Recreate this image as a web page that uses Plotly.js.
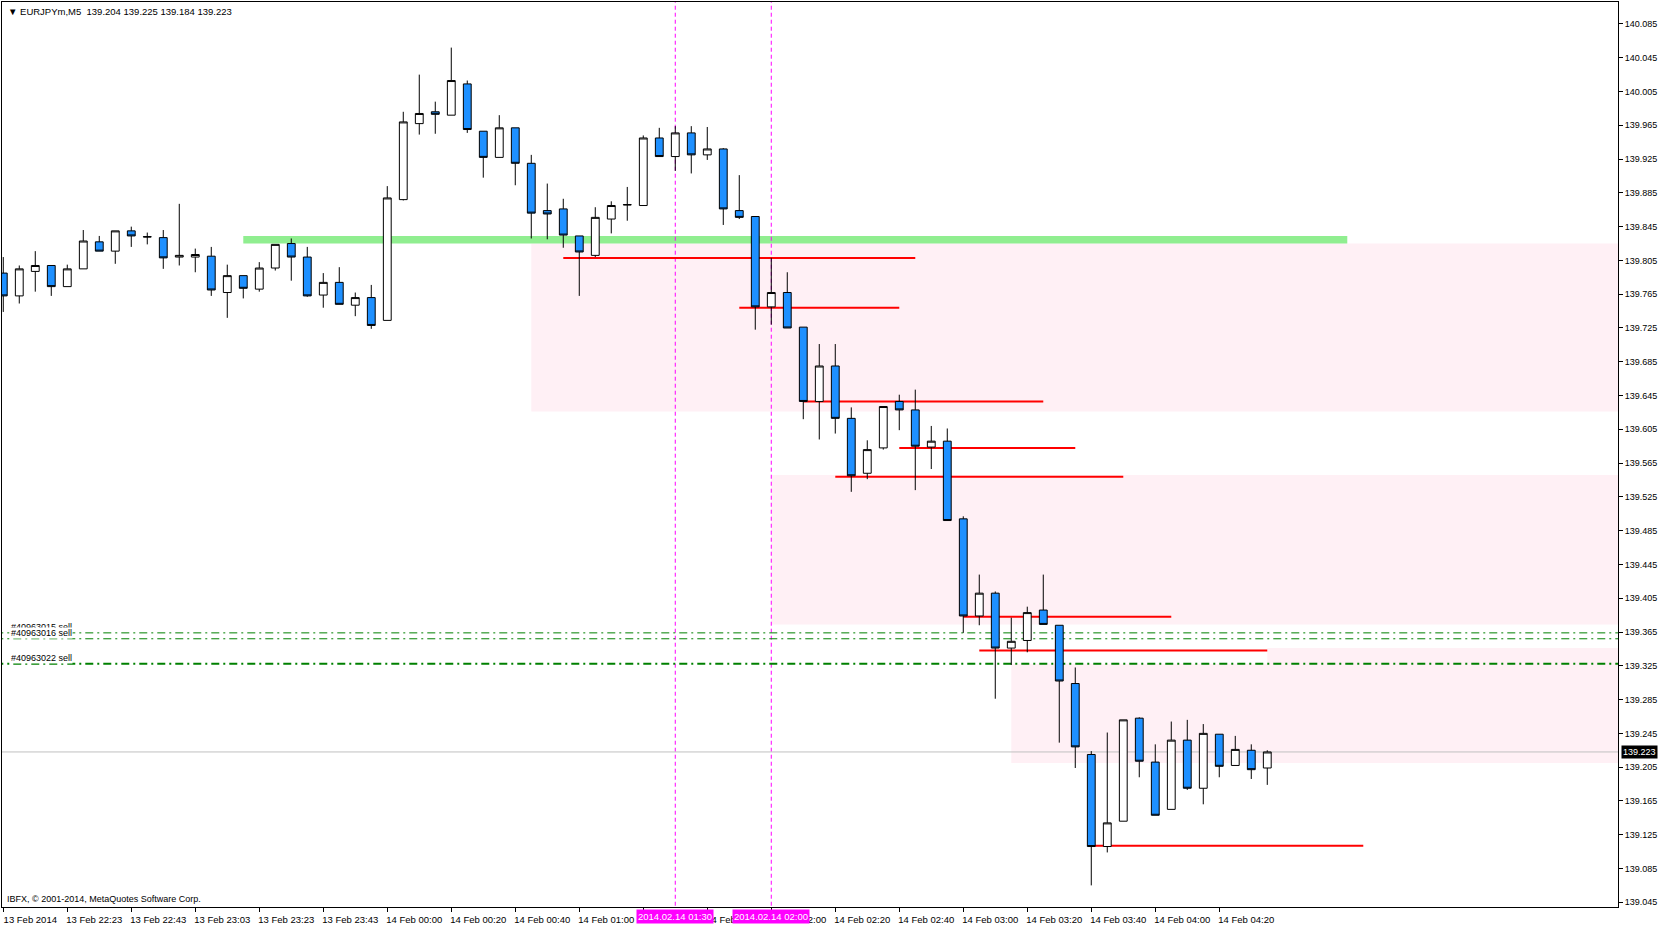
<!DOCTYPE html>
<html>
<head>
<meta charset="utf-8">
<script src="https://cdn.plot.ly/plotly-3.0.1.min.js"></script>
<style>html,body{margin:0;padding:0;background:#fff;}#chart{width:1663px;height:925px;}</style>
</head>
<body>
<div id="chart"></div>
<script>
// ---- Data (EURJPYm, M5) ----
const openP  = [139.790,139.763,139.792,139.799,139.774,139.795,139.827,139.816,139.840,139.8332,
                139.832,139.809,139.809,139.810,139.767,139.787,139.771,139.796,139.825,139.809,
                139.764,139.779,139.752,139.761,139.734,139.877,139.967,139.981,139.977,140.014,
                139.958,139.927,139.962,139.920,139.864,139.866,139.834,139.811,139.854,139.8712,
                139.870,139.950,139.928,139.956,139.930,139.937,139.864,139.857,139.750,139.767,
                139.726,139.638,139.680,139.618,139.553,139.583,139.638,139.628,139.584,139.591,
                139.499,139.384,139.411,139.346,139.355,139.391,139.373,139.304,139.220,139.111,
                139.141,139.263,139.211,139.155,139.237,139.180,139.244,139.207,139.225,139.204];
const highP  = [139.809,139.799,139.816,139.799,139.800,139.841,139.834,139.840,139.845,139.838,
                139.841,139.872,139.819,139.821,139.800,139.787,139.803,139.824,139.831,139.821,
                139.790,139.797,139.767,139.776,139.893,139.981,140.025,139.993,140.057,140.018,
                139.958,139.977,139.962,139.930,139.896,139.878,139.834,139.868,139.875,139.892,
                139.953,139.962,139.964,139.964,139.963,139.938,139.906,139.857,139.808,139.791,
                139.726,139.706,139.706,139.631,139.592,139.632,139.646,139.652,139.609,139.606,
                139.502,139.433,139.413,139.382,139.395,139.433,139.373,139.323,139.224,139.246,
                139.261,139.264,139.232,139.259,139.261,139.256,139.244,139.242,139.232,139.225];
const lowP   = [139.744,139.754,139.768,139.763,139.774,139.795,139.816,139.801,139.821,139.824,
                139.795,139.799,139.791,139.763,139.737,139.760,139.768,139.793,139.781,139.762,
                139.749,139.753,139.739,139.724,139.734,139.876,139.954,139.955,139.977,139.956,
                139.903,139.927,139.894,139.831,139.830,139.820,139.763,139.809,139.837,139.852,
                139.870,139.928,139.911,139.908,139.924,139.847,139.854,139.723,139.729,139.725,
                139.617,139.593,139.600,139.531,139.546,139.581,139.604,139.533,139.558,139.497,
                139.364,139.373,139.286,139.326,139.341,139.374,139.234,139.204,139.065,139.104,
                139.141,139.193,139.148,139.155,139.178,139.161,139.193,139.207,139.191,139.184];
const closeP = [139.763,139.795,139.799,139.774,139.795,139.828,139.816,139.840,139.834,139.8328,
                139.808,139.811,139.812,139.770,139.787,139.772,139.796,139.824,139.809,139.763,
                139.779,139.753,139.761,139.728,139.879,139.969,139.979,139.978,140.018,139.960,
                139.927,139.962,139.920,139.861,139.860,139.835,139.815,139.856,139.870,139.8708,
                139.950,139.928,139.956,139.930,139.937,139.866,139.856,139.750,139.767,139.725,
                139.638,139.680,139.618,139.550,139.581,139.632,139.628,139.585,139.591,139.497,
                139.384,139.411,139.346,139.354,139.388,139.374,139.307,139.229,139.111,139.139,
                139.261,139.212,139.148,139.237,139.180,139.245,139.206,139.226,139.202,139.223];

// time-axis labels (every 4th bar)
const tickBars   = [0,4,8,12,16,20,24,28,32,36,40,44,48,52,56,60,64,68,72,76];
const tickLabels = ["13 Feb 2014","13 Feb 22:23","13 Feb 22:43","13 Feb 23:03","13 Feb 23:23","13 Feb 23:43",
                    "14 Feb 00:00","14 Feb 00:20","14 Feb 00:40","14 Feb 01:00","14 Feb 01:20","14 Feb 01:40",
                    "14 Feb 02:00","14 Feb 02:20","14 Feb 02:40","14 Feb 03:00","14 Feb 03:20","14 Feb 03:40",
                    "14 Feb 04:00","14 Feb 04:20"];

// red horizontal segments
const redLevel = [139.808,139.749,139.638,139.583,139.549,139.383,139.343,139.112];
const redStart = [35,46,50,56,52,60,61,68];
const redEnd   = [57,56,65,67,70,73,79,85];

// green zone line
const greenLow = 139.825, greenHigh = 139.834, greenStart = 15, greenEnd = 84;

// pink zones
const zoneStart = [33,48,63];
const zoneLow   = [139.626,139.374,139.210];
const zoneHigh  = [139.825,139.551,139.346];

// order levels
const orderNames  = ["#40963015 sell","#40963016 sell","#40963022 sell"];
const orderLevels = [139.364,139.357,139.3275];

// vertical time markers
const vBars   = [42,48];
const vLabels = ["2014.02.14 01:30","2014.02.14 02:00"];

const symbol = "EURJPYm,M5";
const copyright = "IBFX, \u00a9 2001-2014, MetaQuotes Software Corp.";

// ---- Build ----
const barIndex = openP.map((_, i) => i);
const n = openP.length;
const lastO = openP[n-1], lastH = highP[n-1], lastL = lowP[n-1], lastC = closeP[n-1];
const X_LO = -5, X_HI = 130, Y_LO = 138.9, Y_HI = 140.3;   // extents clipped by the plot area

const trace = {
  type: 'candlestick',
  x: barIndex, open: openP, high: highP, low: lowP, close: closeP,
  increasing: {line: {color: '#000000', width: 1}, fillcolor: '#FFFFFF'},
  decreasing: {line: {color: '#000000', width: 1}, fillcolor: '#1E90FF'},
  whiskerwidth: 0,
  hoverinfo: 'skip',
  showlegend: false
};

const shapes = [];
// pink zones
for (let k = 0; k < zoneStart.length; k++) {
  shapes.push({type:'rect', layer:'below', xref:'x', yref:'y', x0: zoneStart[k], x1: X_HI,
    y0: zoneLow[k], y1: zoneHigh[k], fillcolor:'#FFF0F5', line:{width:0}});
}
// white gap in lowest zone
shapes.push({type:'rect', layer:'below', xref:'x', yref:'y', x0: zoneStart[2], x1: redEnd[6],
  y0: orderLevels[2], y1: zoneHigh[2], fillcolor:'#FFFFFF', line:{width:0}});
// green zone line
shapes.push({type:'rect', layer:'below', xref:'x', yref:'y', x0: greenStart, x1: greenEnd,
  y0: greenLow, y1: greenHigh, fillcolor:'#90EE90', line:{width:0}});
// vertical markers
vBars.forEach(b => {
  shapes.push({type:'line', layer:'below', xref:'x', yref:'y', x0:b, x1:b, y0:Y_LO, y1:Y_HI,
    line:{color:'#FF00FF', width:1, dash:'4px,3px'}});
});
// current price line
shapes.push({type:'line', layer:'below', xref:'x', yref:'y', x0:X_LO, x1:X_HI, y0:lastC, y1:lastC,
  line:{color:'#C0C0C0', width:1}});
// order lines
orderLevels.forEach((lv, k) => {
  shapes.push({type:'line', layer:'below', xref:'x', yref:'y', x0:X_LO, x1:X_HI, y0:lv, y1:lv,
    line:{color:'#008000', width: k === 2 ? 2 : 1, dash:'8px,4px,2px,4px'}});
});
// red segments
for (let k = 0; k < redLevel.length; k++) {
  shapes.push({type:'line', layer:'below', xref:'x', yref:'y', x0: redStart[k], x1: redEnd[k],
    y0: redLevel[k], y1: redLevel[k], line:{color:'#FF0000', width:2}});
}

const F = 'Liberation Sans, Arial, sans-serif';
const annotations = [];
annotations.push({xref:'paper', yref:'paper', x:0, y:1, xanchor:'left', yanchor:'top', xshift:4, yshift:-2,
  showarrow:false, font:{family:F, size:9.5, color:'#000'},
  text: '\u25BC ' + symbol + '\u00a0\u00a0' + [lastO, lastH, lastL, lastC].map(v => v.toFixed(3)).join(' ')});
annotations.push({xref:'paper', yref:'paper', x:0, y:0, xanchor:'left', yanchor:'bottom', xshift:3, yshift:1,
  showarrow:false, font:{family:F, size:9, color:'#000'}, text: copyright});
orderNames.forEach((nm, k) => {
  annotations.push({xref:'paper', yref:'y', x:0, y:orderLevels[k], xanchor:'left', yanchor:'bottom',
    xshift:8, yshift:0, showarrow:false, bgcolor:'#FFFFFF', borderpad:0,
    font:{family:F, size:9, color:'#000'}, text: nm});
});
// price tag
annotations.push({xref:'paper', yref:'y', x:1, y:lastC, xanchor:'left', yanchor:'middle', xshift:3,
  showarrow:false, bgcolor:'#000000', borderpad:1, font:{family:F, size:9, color:'#FFFFFF'},
  text: lastC.toFixed(3)});
// time marker labels
vBars.forEach((b, k) => {
  annotations.push({xref:'x', yref:'paper', x:b, y:0, xanchor:'center', yanchor:'top', yshift:-2,
    showarrow:false, bgcolor:'#FF00FF', borderpad:1, font:{family:F, size:9.5, color:'#FFFFFF'},
    text: vLabels[k]});
});

const layout = {
  width: 1663, height: 925,
  margin: {l:2, r:45, t:2, b:18, pad:0},
  paper_bgcolor:'#FFFFFF', plot_bgcolor:'#FFFFFF',
  showlegend:false,
  xaxis: {
    range:[-0.08, 100.92], tickmode:'array', tickvals: tickBars, ticktext: tickLabels,
    ticks:'outside', ticklen:4, tickcolor:'#000', tickwidth:1,
    showline:true, mirror:true, linecolor:'#000', linewidth:1,
    showgrid:false, zeroline:false, rangeslider:{visible:false},
    tickfont:{family:F, size:9.5, color:'#000'}, ticklabelshift: 27, fixedrange:true
  },
  yaxis: {
    side:'right', range:[139.0394, 140.111], tickmode:'linear', tick0:139.045, dtick:0.04,
    tickformat:'.3f', ticks:'outside', ticklen:4, tickcolor:'#000', tickwidth:1,
    showline:true, mirror:true, linecolor:'#000', linewidth:1,
    showgrid:false, zeroline:false,
    tickfont:{family:F, size:9, color:'#000'}, fixedrange:true
  },
  shapes: shapes,
  annotations: annotations
};

Plotly.newPlot('chart', [trace], layout, {displayModeBar:false, staticPlot:true});
</script>
</body>
</html>
